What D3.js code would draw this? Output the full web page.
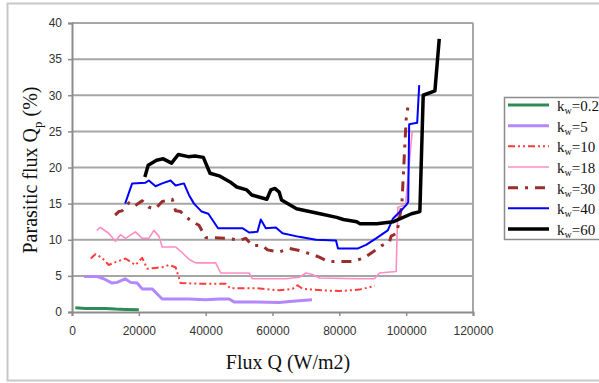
<!DOCTYPE html>
<html>
<head>
<meta charset="utf-8">
<script src="https://cdn.jsdelivr.net/npm/d3@7"></script>
<style>
  body { margin: 0; background: #fff; }
  svg { display: block; }
</style>
</head>
<body>
<div class="chart-container"></div>
<script>
// Series data (flux Q in W/m2, parasitic flux in %)
const q02 = [1000, 4000, 7000, 10000, 13000, 16000, 20000];
const p02 = [0.6, 0.5, 0.5, 0.5, 0.4, 0.35, 0.3];

const q5 = [3600, 7500, 9500, 12000, 13500, 15900, 17500, 19500, 21000, 24000, 25500, 27000, 35000, 40000, 44000, 47000, 48500, 55000, 62000, 66000, 71800];
const p5 = [4.9, 4.9, 4.6, 4.0, 4.1, 4.6, 4.1, 4.0, 3.2, 3.2, 2.5, 1.8, 1.8, 1.7, 1.8, 1.8, 1.4, 1.4, 1.3, 1.5, 1.7];

const q10 = [5600, 7000, 9000, 11000, 13000, 16000, 19000, 21000, 22500, 25000, 27000, 29000, 31000, 32500, 40000, 46000, 47300, 55000, 62000, 66000, 67500, 69000, 75000, 80000, 86000, 90600];
const p10 = [7.4, 8.0, 7.5, 6.5, 6.9, 7.4, 6.5, 7.5, 6.0, 6.1, 6.2, 6.5, 6.2, 4.0, 3.9, 3.9, 3.3, 3.3, 3.0, 3.2, 3.7, 3.2, 3.0, 2.9, 3.1, 3.6];

const q18 = [7400, 8500, 11000, 13000, 14500, 16000, 19000, 21000, 23000, 24500, 26000, 27000, 31000, 33000, 35000, 37000, 43000, 44500, 53000, 54000, 64000, 68000, 70000, 72000, 74000, 85000, 90500, 92000, 97000, 97500, 99800, 101800];
const p18 = [11.3, 11.7, 10.9, 9.8, 10.7, 10.2, 11.1, 10.2, 10.2, 11.3, 10.5, 9.0, 9.0, 8.2, 7.3, 6.8, 6.8, 5.4, 5.4, 4.6, 4.6, 4.8, 5.4, 5.2, 4.7, 4.6, 4.6, 5.4, 5.6, 14.5, 14.8, 25.0];

const q30 = [12900, 14000, 15000, 17000, 18500, 21000, 23000, 25000, 27000, 30000, 31000, 32500, 34000, 36000, 38000, 40000, 47000, 50000, 52000, 54000, 57000, 58500, 62000, 65000, 68000, 71700, 74000, 76500, 84000, 87500, 90000, 92700, 95000, 95500, 97200, 98700, 100000, 100500];
const p30 = [13.4, 13.9, 14.0, 15.1, 14.6, 15.4, 14.5, 14.3, 15.3, 15.6, 14.0, 13.9, 13.2, 12.5, 12.0, 10.3, 10.2, 9.9, 10.2, 9.2, 9.2, 8.6, 8.3, 8.8, 8.5, 8.0, 7.6, 7.0, 7.0, 7.5, 8.3, 9.2, 9.7, 10.5, 10.9, 14.8, 26.7, 28.3];

const q40 = [15900, 18000, 22000, 23000, 25000, 27000, 29500, 31000, 33500, 35000, 36500, 38800, 40800, 43700, 51000, 53000, 55500, 56500, 58000, 61000, 63000, 68000, 73000, 79000, 79600, 85600, 88000, 91000, 94500, 96000, 99000, 100000, 100600, 100900, 103300, 103900];
const p40 = [15.0, 17.8, 17.9, 18.2, 17.4, 17.8, 18.2, 17.5, 17.8, 16.2, 15.0, 13.9, 13.6, 11.6, 11.6, 11.0, 11.1, 12.8, 11.6, 11.7, 10.9, 10.4, 10.0, 9.9, 8.8, 8.8, 9.3, 10.2, 11.3, 12.9, 14.3, 14.8, 15.2, 26.0, 26.2, 31.4];

const q60 = [21800, 22800, 25300, 27300, 29800, 31800, 34800, 36800, 39300, 41300, 44300, 47300, 49300, 52300, 53800, 58300, 59500, 60700, 62000, 62700, 67200, 74200, 79200, 81200, 85200, 86200, 91200, 96200, 101600, 104100, 105100, 108600, 109900];
const p60 = [18.7, 20.3, 21.0, 21.2, 20.6, 21.8, 21.5, 21.6, 21.4, 19.2, 18.8, 18.0, 17.3, 16.9, 16.2, 15.6, 16.9, 17.1, 16.6, 15.5, 14.3, 13.6, 13.1, 12.8, 12.5, 12.2, 12.2, 12.5, 13.6, 13.9, 30.0, 30.6, 37.8];

const seriesNames = ['0.2', '5', '10', '18', '30', '40', '60'];
const seriesQ = [q02, q5, q10, q18, q30, q40, q60];
const seriesP = [p02, p5, p10, p18, p30, p40, p60];

const xTicks = [0, 20000, 40000, 60000, 80000, 100000, 120000];
const yTicks = [0, 5, 10, 15, 20, 25, 30, 35, 40];

// styles per series
const lineColors = ['#2e8b57', '#b388ff', '#ff3b3b', '#ff8cc6', '#9b2d2d', '#0000ff', '#000000'];
const lineWidths = [3, 3, 2, 1.6, 3, 2, 3.5];
const lineDashes = [null, null, '7,3,2,3,2,3', null, '10,7,3,7', null, null];

const width = 599;
const height = 383;
const margin = { top: 23, right: 126, bottom: 71, left: 72 };
const serif = '"Liberation Serif", "Times New Roman", serif';
const sans = '"Liberation Sans", Arial, sans-serif';

const svg = d3.select('.chart-container')
    .append('svg')
    .attr('width', width)
    .attr('height', height);

// outer frame
svg.append('rect')
    .attr('x', 7.5)
    .attr('y', 3.5)
    .attr('width', width)
    .attr('height', 377)
    .style('fill', 'none')
    .style('stroke', '#c8c8c8')
    .style('stroke-width', 2);

const x = d3.scaleLinear()
    .domain([0, 120000])
    .range([margin.left, width - margin.right]);

const y = d3.scaleLinear()
    .domain([0, 40])
    .range([height - margin.bottom, margin.top]);

// gridlines
svg.append('g')
    .selectAll('line')
    .data(yTicks.filter(d => d > 0))
    .enter().append('line')
    .attr('x1', x(0))
    .attr('x2', x(120000))
    .attr('y1', d => y(d))
    .attr('y2', d => y(d))
    .style('stroke', '#a6a6a6')
    .style('stroke-width', 2);

// plot frame right side
svg.append('line')
    .attr('x1', x(120000))
    .attr('x2', x(120000))
    .attr('y1', y(0))
    .attr('y2', y(40))
    .style('stroke', '#a6a6a6')
    .style('stroke-width', 2);

const xAxis = svg.append('g')
    .attr('transform', `translate(0,${y(0)})`)
    .call(d3.axisBottom(x).tickValues(xTicks).tickSize(4).tickPadding(10).tickFormat(d3.format('d')));

const yAxis = svg.append('g')
    .attr('transform', `translate(${x(0)},0)`)
    .call(d3.axisLeft(y).tickValues(yTicks).tickSize(4).tickPadding(6));

[xAxis, yAxis].forEach(ax => {
    ax.select('.domain').style('stroke', '#8c8c8c').style('stroke-width', 2);
    ax.selectAll('.tick line').style('stroke', '#8c8c8c').style('stroke-width', 1.5);
    ax.selectAll('text')
        .style('font-family', sans)
        .style('font-size', '12px')
        .style('fill', '#333');
});

// series lines
const line = d3.line()
    .x(d => x(d[0]))
    .y(d => y(d[1]));

seriesNames.forEach((name, i) => {
    const points = seriesQ[i].map((q, j) => [q, seriesP[i][j]]);
    svg.append('path')
        .datum(points)
        .attr('d', line)
        .style('fill', 'none')
        .style('stroke', lineColors[i])
        .style('stroke-width', lineWidths[i])
        .style('stroke-linejoin', 'round')
        .style('stroke-dasharray', lineDashes[i]);
});

// axis titles
svg.append('text')
    .attr('x', 288)
    .attr('y', 369)
    .attr('text-anchor', 'middle')
    .style('font-family', serif)
    .style('font-size', '20px')
    .style('fill', '#111')
    .text('Flux Q (W/m2)');

const yTitle = svg.append('text')
    .attr('transform', 'translate(37,170) rotate(-90)')
    .attr('text-anchor', 'middle')
    .style('font-family', serif)
    .style('font-size', '20px')
    .style('fill', '#111');
yTitle.append('tspan').text('Parasitic flux Q');
yTitle.append('tspan').attr('dy', 5).style('font-size', '13px').text('p');
yTitle.append('tspan').attr('dy', -5).text(' (%)');

// legend
const legend = svg.append('g');
legend.append('rect')
    .attr('x', 504.5)
    .attr('y', 97.5)
    .attr('width', 110)
    .attr('height', 142)
    .style('fill', '#fff')
    .style('stroke', '#8c8c8c')
    .style('stroke-width', 1.5);

const legendY = d3.scalePoint()
    .domain(seriesNames)
    .range([105, 229]);

seriesNames.forEach((name, i) => {
    const ly = legendY(name);
    legend.append('line')
        .attr('x1', 508)
        .attr('x2', 549)
        .attr('y1', ly)
        .attr('y2', ly)
        .style('stroke', lineColors[i])
        .style('stroke-width', lineWidths[i])
        .style('stroke-dasharray', lineDashes[i]);
    const t = legend.append('text')
        .attr('x', 557)
        .attr('y', ly + 6)
        .style('font-family', serif)
        .style('font-size', '15px')
        .style('fill', '#111');
    t.append('tspan').text('k');
    t.append('tspan').attr('dy', 3).style('font-size', '10px').text('w');
    t.append('tspan').attr('dy', -3).text('=' + name);
});
</script>
</body>
</html>
